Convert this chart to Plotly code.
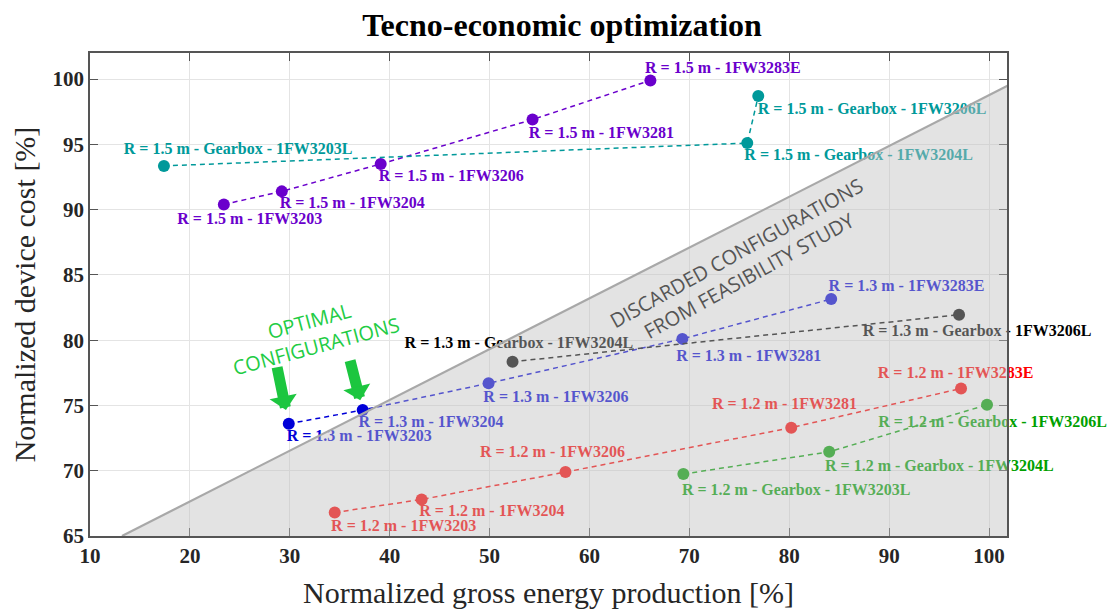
import plotly.graph_objects as go

# ---------------- data ----------------
r15_x = [23.4, 29.2, 39.1, 54.3, 66.1]
r15_y = [90.4, 91.4, 93.5, 96.9, 99.9]
r15_lab = ["R = 1.5 m - 1FW3203", "R = 1.5 m - 1FW3204", "R = 1.5 m - 1FW3206",
           "R = 1.5 m - 1FW3281", "R = 1.5 m - 1FW3283E"]

r15g_x = [17.4, 75.8, 76.9]
r15g_y = [93.35, 95.1, 98.7]
r15g_lab = ["R = 1.5 m - Gearbox - 1FW3203L", "R = 1.5 m - Gearbox - 1FW3204L",
            "R = 1.5 m - Gearbox - 1FW3206L"]

r13_x = [29.9, 37.3, 49.9, 69.3, 84.2]
r13_y = [73.6, 74.65, 76.7, 80.1, 83.15]
r13_lab = ["R = 1.3 m - 1FW3203", "R = 1.3 m - 1FW3204", "R = 1.3 m - 1FW3206",
           "R = 1.3 m - 1FW3281", "R = 1.3 m - 1FW3283E"]

r13g_x = [52.3, 97.0]
r13g_y = [78.35, 81.95]
r13g_lab = ["R = 1.3 m - Gearbox - 1FW3204L", "R = 1.3 m - Gearbox - 1FW3206L"]

r12_x = [34.5, 43.2, 57.6, 80.2, 97.2]
r12_y = [66.8, 67.8, 69.9, 73.3, 76.3]
r12_lab = ["R = 1.2 m - 1FW3203", "R = 1.2 m - 1FW3204", "R = 1.2 m - 1FW3206",
           "R = 1.2 m - 1FW3281", "R = 1.2 m - 1FW3283E"]

r12g_x = [69.4, 84.0, 99.8]
r12g_y = [69.75, 71.45, 75.05]
r12g_lab = ["R = 1.2 m - Gearbox - 1FW3203L", "R = 1.2 m - Gearbox - 1FW3204L",
            "R = 1.2 m - Gearbox - 1FW3206L"]

x_ticks = [10, 20, 30, 40, 50, 60, 70, 80, 90, 100]
y_ticks = [65, 70, 75, 80, 85, 90, 95, 100]

# ---------------- styling / layout helpers ----------------
# label offsets (data units) from each point to the centre of its label
r15_off = [(2.6, -1.2), (7.05, -0.96), (7.06, -1.02), (6.89, -1.07), (7.26, 0.87)]
r15g_off = [(7.43, 1.2), (11.15, -1.02), (11.4, -1.09)]
r13_off = [(7.05, -1.02), (6.84, -1.02), (6.74, -1.15), (6.64, -1.35), (7.54, 0.94)]
r13g_off = [(0.64, 1.38), (1.8, -1.3)]
r12_off = [(6.9, -1.12), (7.03, -0.95), (-1.3, 1.45), (-0.68, 1.74), (-0.54, 1.1)]
r12g_off = [(11.3, -1.28), (11.03, -1.15), (0.56, -1.38)]

groups = [
    (r15_x, r15_y, r15_lab, r15_off, "#6a00cc"),
    (r15g_x, r15g_y, r15g_lab, r15g_off, "#00999a"),
    (r13_x, r13_y, r13_lab, r13_off, "#0000d8"),
    (r13g_x, r13g_y, r13g_lab, r13g_off, "#000000"),
    (r12_x, r12_y, r12_lab, r12_off, "#ff0000"),
    (r12g_x, r12g_y, r12g_lab, r12g_off, "#00a000"),
]

SERIF = "Liberation Serif"
SANS = "Open Sans"

X_RANGE = [10, 101.8]
Y_RANGE = [65, 102]
DIAG_X0, DIAG_Y0, DIAG_SLOPE = 13.2, 65.0, 0.389

fig = go.Figure()

for gx, gy, glab, goff, col in groups:
    fig.add_trace(go.Scatter(
        x=gx, y=gy, mode="lines+markers",
        line=dict(color=col, width=1.5, dash="5px,4px"),
        marker=dict(color=col, size=12),
        hoverinfo="skip", showlegend=False))
    fig.add_trace(go.Scatter(
        x=[v + o[0] for v, o in zip(gx, goff)],
        y=[v + o[1] for v, o in zip(gy, goff)],
        mode="text", text=glab, textposition="middle center",
        textfont=dict(family=SERIF, size=16, color=col, weight="bold"),
        cliponaxis=False, hoverinfo="skip", showlegend=False))

# discarded region: translucent grey overlay above the traces
x_far = 130
y_far = DIAG_Y0 + DIAG_SLOPE * (x_far - DIAG_X0)
fig.add_shape(type="path", xref="x", yref="y", layer="above",
              path=f"M {DIAG_X0},{DIAG_Y0} L {x_far},{DIAG_Y0} L {x_far},{y_far} Z",
              fillcolor="rgba(192,192,192,0.443)", line=dict(width=0))
fig.add_shape(type="line", xref="x", yref="y", layer="above",
              x0=DIAG_X0, y0=DIAG_Y0, x1=x_far, y1=y_far,
              line=dict(color="#a8a8a8", width=2.2))

# annotations
fig.add_annotation(x=75.3, y=85.8, xref="x", yref="y",
                   text="DISCARDED CONFIGURATIONS<br>FROM FEASIBILITY STUDY",
                   showarrow=False, textangle=-29,
                   font=dict(family=SANS, size=20, color="#555555"))
fig.add_annotation(x=32.3, y=80.5, xref="x", yref="y",
                   text="OPTIMAL<br>CONFIGURATIONS", showarrow=False, textangle=-15,
                   font=dict(family=SANS, size=20, color="#22cc44"))
GREEN_ARROW = "#1cc63f"
fig.add_annotation(x=r13_x[0], y=r13_y[0], xref="x", yref="y", text="",
                   showarrow=True, ax=-12, ay=-58, standoff=14,
                   arrowhead=1, arrowwidth=11, arrowsize=0.42, arrowcolor=GREEN_ARROW)
fig.add_annotation(x=r13_x[1], y=r13_y[1], xref="x", yref="y", text="",
                   showarrow=True, ax=-13, ay=-51, standoff=10,
                   arrowhead=1, arrowwidth=11, arrowsize=0.42, arrowcolor=GREEN_ARROW)

axis_common = dict(
    showgrid=True, gridcolor="#e4e4e4", gridwidth=1,
    showline=True, linecolor="#555555", linewidth=1.5, mirror="ticks",
    ticks="inside", ticklen=8, tickcolor="#555555", tickwidth=1,
    zeroline=False, automargin=False,
    tickfont=dict(family=SERIF, size=21, color="#262626", weight="bold"),
)

# the page body adds an 8 px offset, so the figure is sized to fit inside the window
fig.update_layout(
    width=1108, height=601,
    paper_bgcolor="white", plot_bgcolor="white",
    margin=dict(l=82, r=109, t=45, b=73),
    title=dict(text="<b>Tecno-economic optimization</b>", x=0.5, xanchor="center",
               y=0.972, yanchor="middle",
               font=dict(family=SERIF, size=32, color="#000000")),
    xaxis=dict(range=X_RANGE, tickvals=x_ticks, **axis_common,
               title=dict(text="Normalized gross energy production [%]", standoff=17,
                          font=dict(family=SERIF, size=30, color="#262626"))),
    yaxis=dict(range=Y_RANGE, tickvals=y_ticks, **axis_common,
               title=dict(text="Normalized device cost [%]", standoff=10,
                          font=dict(family=SERIF, size=30, color="#262626"))),
)

fig.write_html("out.html")
